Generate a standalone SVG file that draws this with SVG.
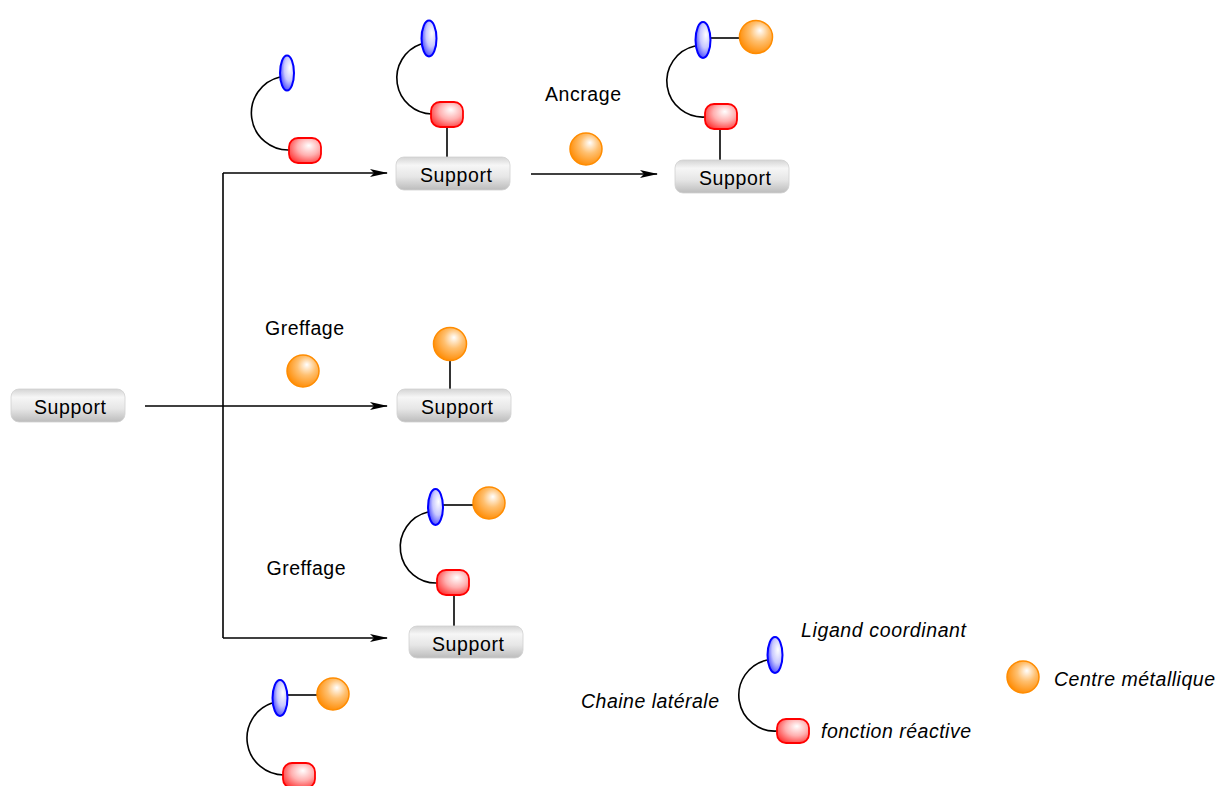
<svg xmlns="http://www.w3.org/2000/svg" width="1219" height="786" viewBox="0 0 1219 786">
<style>
.t{font-family:"Liberation Sans",Arial,sans-serif;font-size:19.5px;fill:#000}
.i{font-style:italic}
.lig{fill:url(#gb);stroke:#0000ff;stroke-width:2}
.rea{fill:url(#gr);stroke:#ff0000;stroke-width:1.8}
.met{fill:url(#go);stroke:#ff8c00;stroke-width:1.5}
.sup{fill:url(#gs);stroke:#d0d0d0;stroke-width:0.8}
.ln{fill:none;stroke:#000;stroke-width:1.6}
.ar{fill:none;stroke:#000;stroke-width:1.6;marker-end:url(#ah)}
</style>
<defs>
<radialGradient id="gb" cx="0.62" cy="0.4" r="0.7" fx="0.7" fy="0.35">
<stop offset="0" stop-color="#ffffff"/><stop offset="0.5" stop-color="#c8c8ff"/><stop offset="1" stop-color="#3030ff"/>
</radialGradient>
<radialGradient id="gr" cx="0.6" cy="0.4" r="0.7" fx="0.62" fy="0.3">
<stop offset="0" stop-color="#ffffff"/><stop offset="0.5" stop-color="#ffb0b0"/><stop offset="1" stop-color="#ff3030"/>
</radialGradient>
<radialGradient id="go" cx="0.6" cy="0.4" r="0.65" fx="0.62" fy="0.3">
<stop offset="0" stop-color="#ffffff"/><stop offset="0.45" stop-color="#ffc070"/><stop offset="1" stop-color="#ff8a00"/>
</radialGradient>
<linearGradient id="gs" x1="0" y1="0" x2="0" y2="1">
<stop offset="0" stop-color="#d4d4d4"/><stop offset="0.25" stop-color="#f6f6f6"/><stop offset="0.6" stop-color="#e6e6e6"/><stop offset="1" stop-color="#bcbcbc"/>
</linearGradient>
<marker id="ah" markerWidth="18" markerHeight="8" refX="17" refY="4" orient="auto" markerUnits="userSpaceOnUse">
<path d="M0,0 L18,4 L0,8 L4,4 Z" fill="#000"/>
</marker>
</defs>

<g id="connectors">
<line class="ln" x1="145" y1="406" x2="223" y2="406"/>
<line class="ar" x1="223" y1="406" x2="387" y2="406"/>
<line class="ln" x1="223" y1="173" x2="223" y2="638"/>
<line class="ar" x1="223" y1="173" x2="387" y2="173"/>
<line class="ar" x1="223" y1="638" x2="387" y2="638"/>
<line class="ar" x1="531" y1="174" x2="657" y2="174"/>
</g>

<g id="support-start">
<rect class="sup" x="11" y="389" width="114" height="33" rx="8"/>
<text class="t" x="70" y="414" text-anchor="middle" textLength="72">Support</text>
</g>

<g id="ligand-free-top">
<path class="ln" d="M280,77 A37,37 0 0 0 290,150"/>
<ellipse class="lig" cx="287" cy="73" rx="7" ry="17.5"/>
<rect class="rea" x="289" y="138" width="32" height="25" rx="9"/>
</g>

<g id="support-ligand">
<path class="ln" d="M421,44 A36,36 0 0 0 432,114"/>
<ellipse class="lig" cx="429" cy="38.5" rx="7.5" ry="18"/>
<line class="ln" x1="447" y1="127" x2="447" y2="157"/>
<rect class="rea" x="431" y="102" width="32" height="25" rx="9"/>
<rect class="sup" x="396" y="157" width="114" height="33" rx="8"/>
<text class="t" x="456" y="182" text-anchor="middle" textLength="72">Support</text>
</g>

<g id="ancrage-label">
<text class="t" x="583" y="101" text-anchor="middle" textLength="76">Ancrage</text>
<circle class="met" cx="586" cy="149" r="16"/>
</g>

<g id="support-anchored">
<path class="ln" d="M695,46 A36,36 0 0 0 706,117"/>
<line class="ln" x1="711" y1="38" x2="740" y2="38"/>
<ellipse class="lig" cx="703" cy="40" rx="7.5" ry="18"/>
<circle class="met" cx="756" cy="37" r="16.5"/>
<line class="ln" x1="720" y1="130" x2="720" y2="160"/>
<rect class="rea" x="705" y="104" width="32" height="25" rx="9"/>
<rect class="sup" x="675" y="160" width="114" height="33" rx="8"/>
<text class="t" x="735" y="185" text-anchor="middle" textLength="72">Support</text>
</g>

<g id="greffage-label-1">
<text class="t" x="304.5" y="335" text-anchor="middle" textLength="79">Greffage</text>
<circle class="met" cx="303" cy="371" r="16"/>
</g>

<g id="support-metal">
<line class="ln" x1="450" y1="360" x2="450" y2="389"/>
<circle class="met" cx="450" cy="344" r="16.5"/>
<rect class="sup" x="397" y="389" width="114" height="33" rx="8"/>
<text class="t" x="457" y="414" text-anchor="middle" textLength="72">Support</text>
</g>

<g id="greffage-label-2">
<text class="t" x="306" y="575" text-anchor="middle" textLength="79">Greffage</text>
</g>

<g id="support-complex">
<path class="ln" d="M428,512 A36,36 0 0 0 438,583"/>
<line class="ln" x1="443" y1="505" x2="473" y2="505"/>
<ellipse class="lig" cx="435.5" cy="507" rx="7.5" ry="18"/>
<circle class="met" cx="489" cy="503" r="16"/>
<line class="ln" x1="454" y1="596" x2="454" y2="626"/>
<rect class="rea" x="437" y="570" width="32" height="25" rx="9"/>
<rect class="sup" x="409" y="626" width="114" height="32" rx="8"/>
<text class="t" x="468" y="651" text-anchor="middle" textLength="72">Support</text>
</g>

<g id="complex-free-bottom">
<path class="ln" d="M272,703 A37,37 0 0 0 284,775"/>
<line class="ln" x1="288" y1="695" x2="317" y2="695"/>
<ellipse class="lig" cx="280" cy="698" rx="7.5" ry="18"/>
<circle class="met" cx="333" cy="694" r="16"/>
<rect class="rea" x="283" y="763" width="32" height="25" rx="9"/>
</g>

<g id="legend-ligand">
<path class="ln" d="M767,660 A36,36 0 0 0 778,731"/>
<ellipse class="lig" cx="775" cy="655" rx="7.5" ry="18"/>
<rect class="rea" x="777" y="719" width="32" height="24" rx="9"/>
<text class="t i" x="801" y="637" textLength="165">Ligand coordinant</text>
<text class="t i" x="719" y="708" text-anchor="end" textLength="138">Chaine latérale</text>
<text class="t i" x="821" y="738" textLength="150">fonction réactive</text>
</g>

<g id="legend-metal">
<circle class="met" cx="1023" cy="677" r="16"/>
<text class="t i" x="1054" y="686" textLength="161">Centre métallique</text>
</g>
</svg>
